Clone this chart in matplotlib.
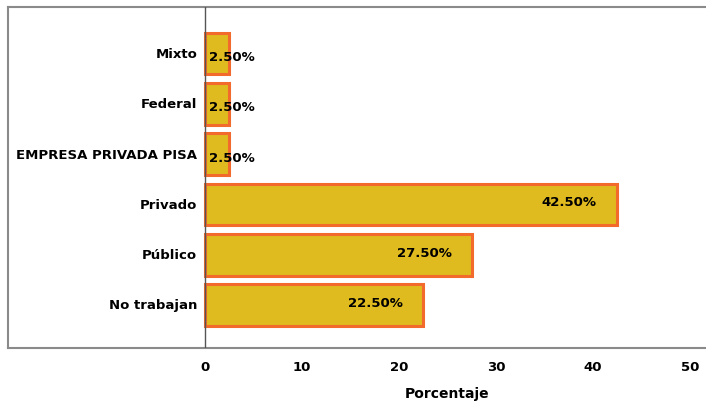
import matplotlib
matplotlib.use("Agg")
import matplotlib.pyplot as plt

categories = ["No trabajan", "Público", "Privado", "EMPRESA PRIVADA PISA", "Federal", "Mixto"]
values = [22.5, 27.5, 42.5, 2.5, 2.5, 2.5]
x_ticks = [0, 10, 20, 30, 40, 50]

BAR_FILL = "#dfbb1f"
BAR_EDGE = "#f26a2c"
FRAME = "#8a8a8a"

plt.rcParams["font.family"] = ["DejaVu Sans"]
plt.rcParams["font.weight"] = "bold"

W, H = 706, 402
fig = plt.figure(figsize=(W / 100, H / 100), dpi=100)

# axes box in pixels: left 8, top 8, bottom 349, right runs past the figure edge
left, top, bottom, right = 8, 8, 349, 712
ax = fig.add_axes([left / W, 1 - bottom / H, (right - left) / W, (bottom - top) / H])

px_per_unit = (690 - 205) / 50
ax.set_xlim(-(205 - left) / px_per_unit, (right - 205) / px_per_unit)
step = 50.3
ax.set_ylim(-(bottom - 306) / step, (306 - top) / step)

ypos = list(range(len(categories)))
ax.barh(ypos, values, height=0.83, color=BAR_FILL, edgecolor=BAR_EDGE, linewidth=2.2, zorder=3)
ax.axvline(0, color="#555555", linewidth=1.0, zorder=4)

for y, v, name in zip(ypos, values, categories):
    ax.text(-0.8, y, name, ha="right", va="center", fontsize=9.5, fontweight="bold")
    if v < 10:
        ax.text(0.4, y - 0.06, f"{v:.2f}%", ha="left", va="center", fontsize=9.5,
                fontweight="bold", zorder=5)
    else:
        ax.text(v - 2.1, y + 0.05, f"{v:.2f}%", ha="right", va="center", fontsize=9.5,
                fontweight="bold", zorder=5)

ax.set_xticks(x_ticks)
ax.set_xticklabels([str(t) for t in x_ticks], fontsize=9.5, fontweight="bold")
ax.tick_params(axis="x", length=0, pad=9)
ax.set_yticks([])
for s in ax.spines.values():
    s.set_color(FRAME)
    s.set_linewidth(1.5)

fig.text(447 / W, 1 - 401 / H, "Porcentaje", ha="center", va="bottom",
         fontsize=10, fontweight="bold")

fig.savefig("out.png", dpi=100)
